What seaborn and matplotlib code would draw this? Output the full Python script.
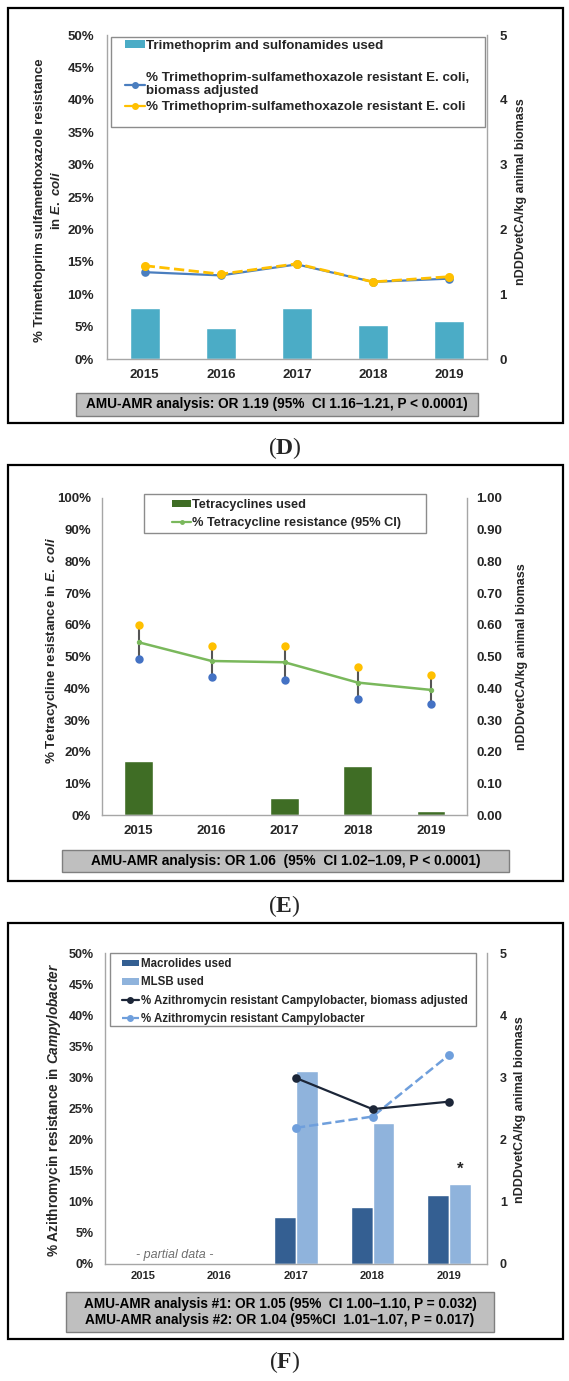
import numpy as np
import pandas as pd
import matplotlib
matplotlib.use("Agg")
import matplotlib.pyplot as plt
import seaborn as sns
from matplotlib.ticker import PercentFormatter, FormatStrFormatter, MultipleLocator
from matplotlib.patches import Rectangle, Patch
from matplotlib.lines import Line2D

# ---------------- data ----------------
years = ["2015", "2016", "2017", "2018", "2019"]

# Panel D
d_use = [0.79, 0.48, 0.79, 0.52, 0.58]
d_res_adj = [13.4, 12.9, 14.6, 11.9, 12.4]
d_res = [14.4, 13.1, 14.7, 11.9, 12.7]

# Panel E
e_use = [0.171, 0.005, 0.054, 0.154, 0.012]
e_res = [54.5, 48.6, 48.2, 41.8, 39.5]
e_ci_low = [49.2, 43.5, 42.7, 36.6, 35.0]
e_ci_high = [59.8, 53.3, 53.3, 46.8, 44.1]

# Panel F
f_macrolides = [np.nan, np.nan, 0.75, 0.92, 1.11]
f_mlsb = [np.nan, np.nan, 3.10, 2.27, 1.29]
f_res_adj = [np.nan, np.nan, 29.9, 24.9, 26.1]
f_res = [np.nan, np.nan, 21.9, 23.7, 33.6]

d_labels = ["Trimethoprim and sulfonamides used", " ",
            "% Trimethoprim-sulfamethoxazole resistant E. coli,\nbiomass adjusted",
            "% Trimethoprim-sulfamethoxazole resistant E. coli"]
e_labels = ["Tetracyclines used", "% Tetracycline resistance (95% CI)"]
f_labels = ["Macrolides used", "MLSB used",
            "% Azithromycin resistant Campylobacter, biomass adjusted",
            "% Azithromycin resistant Campylobacter"]
d_note = "AMU-AMR analysis: OR 1.19 (95%  CI 1.16\u20131.21, P < 0.0001)"
e_note = "AMU-AMR analysis: OR 1.06  (95%  CI 1.02\u20131.09, P < 0.0001)"
f_note = ("AMU-AMR analysis #1: OR 1.05 (95%  CI 1.00\u20131.10, P = 0.032)\n"
          "AMU-AMR analysis #2: OR 1.04 (95%CI  1.01\u20131.07, P = 0.017)")

# ---------------- style ----------------
sns.set_theme(style="white")
plt.rcParams["font.family"] = ["Liberation Sans", "DejaVu Sans"]
plt.rcParams["font.weight"] = "bold"
plt.rcParams["mathtext.fontset"] = "custom"
plt.rcParams["mathtext.it"] = "Liberation Sans:italic:bold"
plt.rcParams["mathtext.rm"] = "Liberation Sans:bold"
plt.rcParams["mathtext.bf"] = "Liberation Serif:bold"

W, H = 569, 1381
fig = plt.figure(figsize=(W / 100, H / 100), dpi=100)
fig.patch.set_facecolor("white")


def fx(x):
    return x / W


def fy(y):
    return 1 - y / H


def frect(x0, y0, x1, y1):
    return [fx(x0), fy(y1), (x1 - x0) / W, (y1 - y0) / H]


SPINE = "#a6a6a6"


def make_axes(box):
    ax = fig.add_axes(frect(*box))
    ax2 = ax.twinx()
    ax.set_zorder(ax2.get_zorder() + 1)
    ax.patch.set_visible(False)
    return ax, ax2


def style_axes(ax, ax2, lpad, rpad, xpad, xsize, ysize):
    for s in ax2.spines.values():
        s.set_visible(False)
    ax.spines["top"].set_visible(False)
    for k in ("left", "right", "bottom"):
        ax.spines[k].set_visible(True)
        ax.spines[k].set_color(SPINE)
        ax.spines[k].set_linewidth(1.0)
    ax.tick_params(axis="y", length=0, pad=lpad, labelsize=ysize, colors="#262626")
    ax2.tick_params(axis="y", length=0, pad=rpad, labelsize=ysize, colors="#262626")
    ax.tick_params(axis="x", length=0, pad=xpad, labelsize=xsize, colors="#262626")
    ax.set_xlabel("")
    ax.set_ylabel("")
    ax2.set_ylabel("")
    ax2.set_xlabel("")
    ax.grid(False)
    ax2.grid(False)


def frame(y0, y1):
    fig.patches.append(Rectangle((fx(7.5), fy(y1)), (562.5 - 7.5) / W, (y1 - y0) / H,
                                 transform=fig.transFigure, facecolor="none",
                                 edgecolor="black", linewidth=1.6, zorder=-2))


def note_box(x0, y0, x1, y1, text, size):
    fig.patches.append(Rectangle((fx(x0), fy(y1)), (x1 - x0) / W, (y1 - y0) / H,
                                 transform=fig.transFigure, facecolor="#bfbfbf",
                                 edgecolor="#7f7f7f", linewidth=1.0, zorder=-1))
    fig.text(fx((x0 + x1) / 2), fy((y0 + y1) / 2), text, ha="center", va="center",
             fontsize=size, fontweight="bold", color="black", linespacing=1.2, zorder=2)


def legend_box(x0, y0, x1, y1):
    fig.patches.append(Rectangle((fx(x0), fy(y1)), (x1 - x0) / W, (y1 - y0) / H,
                                 transform=fig.transFigure, facecolor="white",
                                 edgecolor="#8c8c8c", linewidth=1.0, zorder=-1))


def panel_label(letter, y):
    fig.text(0.5, fy(y), "($\\mathbf{%s}$)" % letter, ha="center", va="center",
             fontsize=17, family="Liberation Serif", fontweight="normal")


pct = PercentFormatter(xmax=100, decimals=0)

# ================= Panel D =================
frame(7.5, 422.5)
axD, axD2 = make_axes((106.7, 35, 487, 359))
sns.barplot(x=years, y=d_use, color="#4bacc6", saturation=1, width=0.40,
            errorbar=None, ax=axD2)
sns.pointplot(x=years, y=d_res_adj, color="#4a7ebf", markers="o", linestyles="-",
              markersize=5, linewidth=1.6, errorbar=None, ax=axD)
sns.pointplot(x=years, y=d_res, color="#ffc000", markers="o", linestyles="--",
              markersize=5, linewidth=2.0, errorbar=None, ax=axD)
axD.set_ylim(0, 50)
axD.yaxis.set_major_locator(MultipleLocator(5))
axD.yaxis.set_major_formatter(pct)
axD2.set_ylim(0, 5)
axD2.yaxis.set_major_locator(MultipleLocator(1))
axD.set_xlim(-0.5, 4.5)
style_axes(axD, axD2, 9, 9, 7, 9.5, 9.5)

legend_box(111, 36.7, 484.5, 127)
hD = [Patch(facecolor="#4bacc6", edgecolor="none"),
      Line2D([], [], color="none"),
      Line2D([], [], color="#4a7ebf", marker="o", markersize=4, linewidth=1.6),
      Line2D([], [], color="#ffc000", marker="o", markersize=4, linewidth=1.6)]
legD = axD.legend(hD, d_labels, loc="upper left", bbox_to_anchor=(fx(124.5), fy(39.5)),
                  bbox_transform=fig.transFigure, frameon=False, fontsize=9.6,
                  handlelength=1.5, handleheight=0.5, handletextpad=0.15,
                  labelspacing=0.3, borderpad=0, borderaxespad=0)
legD.set_zorder(10)

fig.text(fx(49), fy(200), "% Trimethoprim sulfamethoxazole resistance\nin $\\mathit{E.\\ coli}$",
         rotation=90, ha="center", va="center", fontsize=9.5, linespacing=1.4,
         multialignment="center")
fig.text(fx(521), fy(192), "nDDDvetCA/kg animal biomass", rotation=90,
         ha="center", va="center", fontsize=9)
note_box(76.4, 393, 477.7, 416, d_note, 9.8)
panel_label("D", 448)

# ================= Panel E =================
frame(465, 881)
axE, axE2 = make_axes((102, 497.8, 467.3, 815.3))
sns.barplot(x=years, y=e_use, color="#3f6d25", saturation=1, width=0.39,
            errorbar=None, ax=axE2)
pos = np.arange(len(years))
axE.vlines(pos, e_ci_low, e_ci_high, color="#555555", linewidth=1.5, zorder=2)
sns.pointplot(x=years, y=e_res, color="#7ab85c", markers="o", linestyles="-",
              markersize=2.5, linewidth=1.8, errorbar=None, ax=axE)
sns.pointplot(x=years, y=e_ci_low, color="#4472c4", markers="o", linestyles="none",
              markersize=4, errorbar=None, ax=axE)
sns.pointplot(x=years, y=e_ci_high, color="#ffc000", markers="o", linestyles="none",
              markersize=4, errorbar=None, ax=axE)
axE.set_ylim(0, 100)
axE.yaxis.set_major_locator(MultipleLocator(10))
axE.yaxis.set_major_formatter(pct)
axE2.set_ylim(0, 1)
axE2.yaxis.set_major_locator(MultipleLocator(0.1))
axE2.yaxis.set_major_formatter(FormatStrFormatter("%.2f"))
axE.set_xlim(-0.5, 4.5)
style_axes(axE, axE2, 8, 6.5, 7, 9.5, 9.5)

legend_box(144.3, 494, 425.5, 533.3)
hE = [Patch(facecolor="#3f6d25", edgecolor="none"),
      Line2D([], [], color="#7ab85c", marker="o", markersize=2.5, linewidth=1.6)]
legE = axE.legend(hE, e_labels, loc="upper left", bbox_to_anchor=(fx(172), fy(499)),
                  bbox_transform=fig.transFigure, frameon=False, fontsize=9.2,
                  handlelength=1.5, handleheight=0.5, handletextpad=0.1,
                  labelspacing=0.45, borderpad=0, borderaxespad=0)
legE.set_zorder(10)

fig.text(fx(52), fy(650), "% Tetracycline resistance in $\\mathit{E.\\ coli}$",
         rotation=90, ha="center", va="center", fontsize=9.6)
fig.text(fx(522), fy(657), "nDDDvetCA/kg animal biomass", rotation=90,
         ha="center", va="center", fontsize=9)
note_box(61.8, 850, 509, 872, e_note, 9.9)
panel_label("E", 906)

# ================= Panel F =================
frame(923, 1339)
axF, axF2 = make_axes((104.7, 953, 487.3, 1264))
dfF = pd.DataFrame({
    "year": years * 2,
    "value": f_macrolides + f_mlsb,
    "drug": ["Macrolides used"] * len(years) + ["MLSB used"] * len(years),
})
sns.barplot(data=dfF, x="year", y="value", hue="drug", order=years,
            hue_order=["Macrolides used", "MLSB used"],
            palette=["#345f92", "#8fb3dc"], saturation=1, width=0.57, gap=0,
            errorbar=None, legend=False, ax=axF2)
sns.pointplot(x=years, y=f_res, order=years, color="#6f9fdc", markers="o",
              linestyles="--", markersize=5, linewidth=1.8, errorbar=None, ax=axF)
sns.pointplot(x=years, y=f_res_adj, order=years, color="#1c2638", markers="o",
              linestyles="-", markersize=5, linewidth=1.6, errorbar=None, ax=axF)
axF.set_ylim(0, 50)
axF.yaxis.set_major_locator(MultipleLocator(5))
axF.yaxis.set_major_formatter(pct)
axF2.set_ylim(0, 5)
axF2.yaxis.set_major_locator(MultipleLocator(1))
axF.set_xlim(-0.5, 4.5)
style_axes(axF, axF2, 8, 9, 5, 8, 9)
axF2.text(4 + 0.57 / 4, f_mlsb[4] + 0.12, "*", ha="center", va="bottom",
          fontsize=12, fontweight="bold", color="#262626")
axF.text(0.42, 1.5, "- partial data -", ha="center", va="center", fontsize=9,
         fontstyle="italic", fontweight="normal", color="#6f6f6f")

legend_box(109.8, 952.7, 476.4, 1026)
hF = [Patch(facecolor="#345f92", edgecolor="none"),
      Patch(facecolor="#8fb3dc", edgecolor="none"),
      Line2D([], [], color="#1c2638", marker="o", markersize=4, linewidth=1.6),
      Line2D([], [], color="#6f9fdc", marker="o", markersize=4, linewidth=1.6,
             linestyle="--")]
legF = axF.legend(hF, f_labels, loc="upper left", bbox_to_anchor=(fx(121.5), fy(958)),
                  bbox_transform=fig.transFigure, frameon=False, fontsize=8.3,
                  handlelength=1.55, handleheight=0.5, handletextpad=0.15,
                  labelspacing=0.55, borderpad=0, borderaxespad=0)
legF.set_zorder(10)

fig.text(fx(54.5), fy(1110), "% Azithromycin resistance in $\\mathit{Campylobacter}$",
         rotation=90, ha="center", va="center", fontsize=9.8)
fig.text(fx(520), fy(1110), "nDDDvetCA/kg animal biomass", rotation=90,
         ha="center", va="center", fontsize=9)
note_box(66.2, 1292, 493.8, 1332, f_note, 9.8)
panel_label("F", 1362)

fig.savefig("out.png", dpi=100, facecolor="white")
